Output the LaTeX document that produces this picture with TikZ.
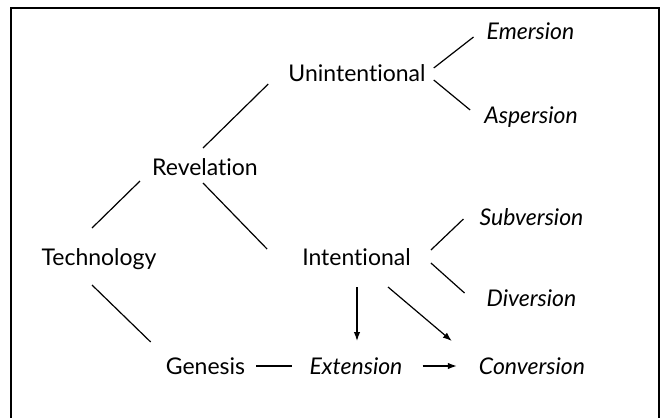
\documentclass[tikz,border=0pt]{standalone}
\usepackage{fontspec}
\setmainfont{Lato}[Ligatures=NoCommon]
\usetikzlibrary{arrows.meta}
\tikzset{
  lab/.style={inner sep=0pt, text height=21pt, text depth=4.5pt, font=\fontsize{23}{27}\selectfont},
  itlab/.style={lab, font=\fontsize{23}{27}\selectfont\itshape},
  conn/.style={line width=1.2pt},
  arr/.style={conn, -{Latex[length=9pt,width=6.5pt]}},
  frame/.style={line width=2pt}
}
\begin{document}
\begin{tikzpicture}[x=1pt,y=-1pt]
\useasboundingbox (0,0) rectangle (662,418);
\draw[frame] (11,418) -- (11,8) -- (659,8) -- (659,418);
% nodes
\node[itlab] (E) at (530.5,31) {Emersion};
\node[lab]   (U) at (357,73) {Unintentional};
\node[itlab] (A) at (531,115) {Aspersion};
\node[lab]   (R) at (205,167) {Revelation};
\node[lab]   (T) at (99,257) {Technology};
\node[lab]   (I) at (356.5,257) {Intentional};
\node[itlab] (S) at (531.5,217) {Subversion};
\node[itlab] (D) at (531.5,298) {Diversion};
\node[lab]   (G) at (205.5,366) {Genesis};
\node[itlab] (X) at (356,366) {Extension};
\node[itlab] (C) at (532,366) {Conversion};
% connectors
\draw[conn] ([shift={(8,-5)}]U.east) -- ([shift={(-13,6)}]E.west);
\draw[conn] ([shift={(8,7)}]U.east) -- ([shift={(-14,-5)}]A.west);
\draw[conn] ([shift={(-2,-19)}]R.center) -- ([shift={(-20,11)}]U.west);
\draw[conn] ([shift={(-65,14)}]R.center) -- ([shift={(-7,-29)}]T.center);
\draw[conn] ([shift={(-2,16)}]R.center) -- ([shift={(-35,-8)}]I.west);
\draw[conn] ([shift={(-7,28)}]T.center) -- ([shift={(-15,-24)}]G.west);
\draw[conn] ([shift={(20,-7)}]I.east) -- ([shift={(-16,2)}]S.west);
\draw[conn] ([shift={(20,6)}]I.east) -- ([shift={(-22,-5)}]D.west);
\draw[arr] ([shift={(0.5,30)}]I.center) -- ([shift={(1,-25)}]X.center);
\draw[arr] ([shift={(31.5,30)}]I.center) -- ([shift={(-27,-25)}]C.west);
\draw[conn] ([shift={(11,0)}]G.east) -- ([shift={(-17,0)}]X.west);
\draw[arr] ([shift={(20,0)}]X.east) -- ([shift={(-22,0)}]C.west);
\end{tikzpicture}
\end{document}
